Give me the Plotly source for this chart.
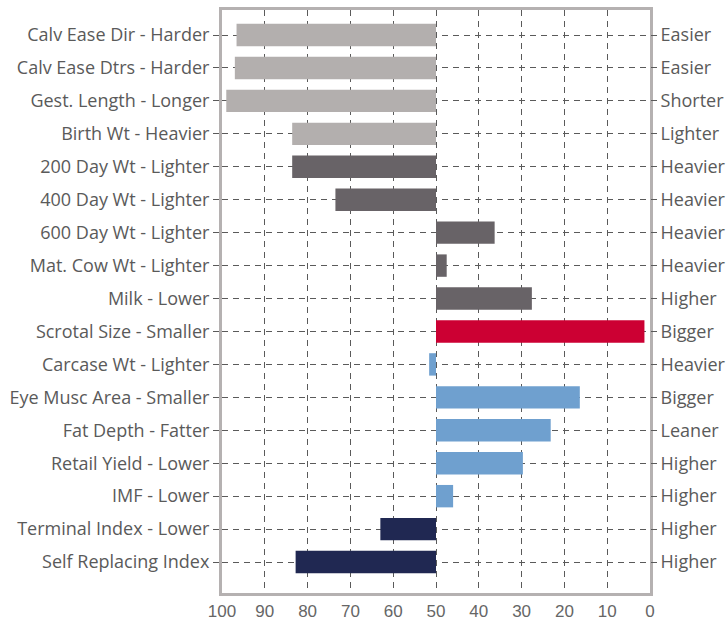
import plotly.graph_objects as go

# left labels (trait - direction), right labels (opposite direction)
traits = [
    'Calv Ease Dir - Harder', 'Calv Ease Dtrs - Harder', 'Gest. Length - Longer',
    'Birth Wt - Heavier', '200 Day Wt - Lighter', '400 Day Wt - Lighter',
    '600 Day Wt - Lighter', 'Mat. Cow Wt - Lighter', 'Milk - Lower',
    'Scrotal Size - Smaller', 'Carcase Wt - Lighter', 'Eye Musc Area - Smaller',
    'Fat Depth - Fatter', 'Retail Yield - Lower', 'IMF - Lower',
    'Terminal Index - Lower', 'Self Replacing Index',
]
right_labels = [
    'Easier', 'Easier', 'Shorter', 'Lighter', 'Heavier', 'Heavier', 'Heavier',
    'Heavier', 'Higher', 'Bigger', 'Heavier', 'Bigger', 'Leaner', 'Higher',
    'Higher', 'Higher', 'Higher',
]
# percentile band values (bars drawn from 50)
percentile = [96.6, 97, 99, 83.6, 83.6, 73.5, 36.3, 47.5, 27.6, 1.3,
              51.6, 16.4, 23.2, 29.7, 46, 63, 82.8]
groups = ['calving'] * 4 + ['growth'] * 5 + ['fertility'] + ['carcase'] * 5 + ['index'] * 2

group_colors = {
    'calving': '#b3afae',
    'growth': '#686367',
    'fertility': '#cc0033',
    'carcase': '#6fa0cf',
    'index': '#202852',
}

pos = list(range(len(traits)))

fig = go.Figure()
fig.add_trace(go.Bar(
    y=pos,
    x=[v - 50 for v in percentile],
    base=50,
    orientation='h',
    width=0.68,
    marker=dict(color=[group_colors[g] for g in groups], line=dict(width=0)),
    hovertext=traits,
    showlegend=False,
))
# invisible trace so the right-hand axis is drawn
fig.add_trace(go.Scatter(
    x=[50] * len(pos), y=pos, yaxis='y2', mode='markers',
    marker=dict(opacity=0), showlegend=False, hoverinfo='skip',
))

font_main = dict(family='Open Sans, Noto Sans, sans-serif', size=18, color='#5a5a5a')
yrange = [16.94, -0.76]
grid_dash = '6px,5px'

fig.update_layout(
    width=728, height=623,
    margin=dict(l=222, r=78, t=10, b=30),
    plot_bgcolor='white', paper_bgcolor='white',
    xaxis=dict(
        range=[100, 0], tickvals=list(range(0, 101, 10)), automargin=False,
        showgrid=True, gridcolor='#5a5a5a', griddash=grid_dash, gridwidth=1,
        showline=True, linecolor='#b5b1b1', linewidth=3, mirror=True,
        zeroline=False, ticks='', ticklabelstandoff=1,
        tickfont=dict(family='Liberation Sans, sans-serif', size=17, color='#666666'),
    ),
    yaxis=dict(
        range=yrange, tickvals=pos, ticktext=traits, automargin=False,
        showgrid=True, gridcolor='#5a5a5a', griddash=grid_dash, gridwidth=1,
        showline=True, linecolor='#b5b1b1', linewidth=3, mirror=True,
        zeroline=False, ticks='outside', ticklen=6, tickcolor='#5a5a5a',
        tickfont=font_main,
    ),
    yaxis2=dict(
        range=yrange, tickvals=pos, ticktext=right_labels, automargin=False,
        overlaying='y', side='right', showgrid=False, zeroline=False,
        ticks='outside', ticklen=6, tickcolor='#5a5a5a',
        tickfont=font_main,
    ),
)

# drop the default body margin so the figure fills the window exactly
fig.write_html(
    'out.html',
    config={'displayModeBar': False},
    post_script="document.body.style.margin='0';document.body.style.overflow='hidden';",
)
